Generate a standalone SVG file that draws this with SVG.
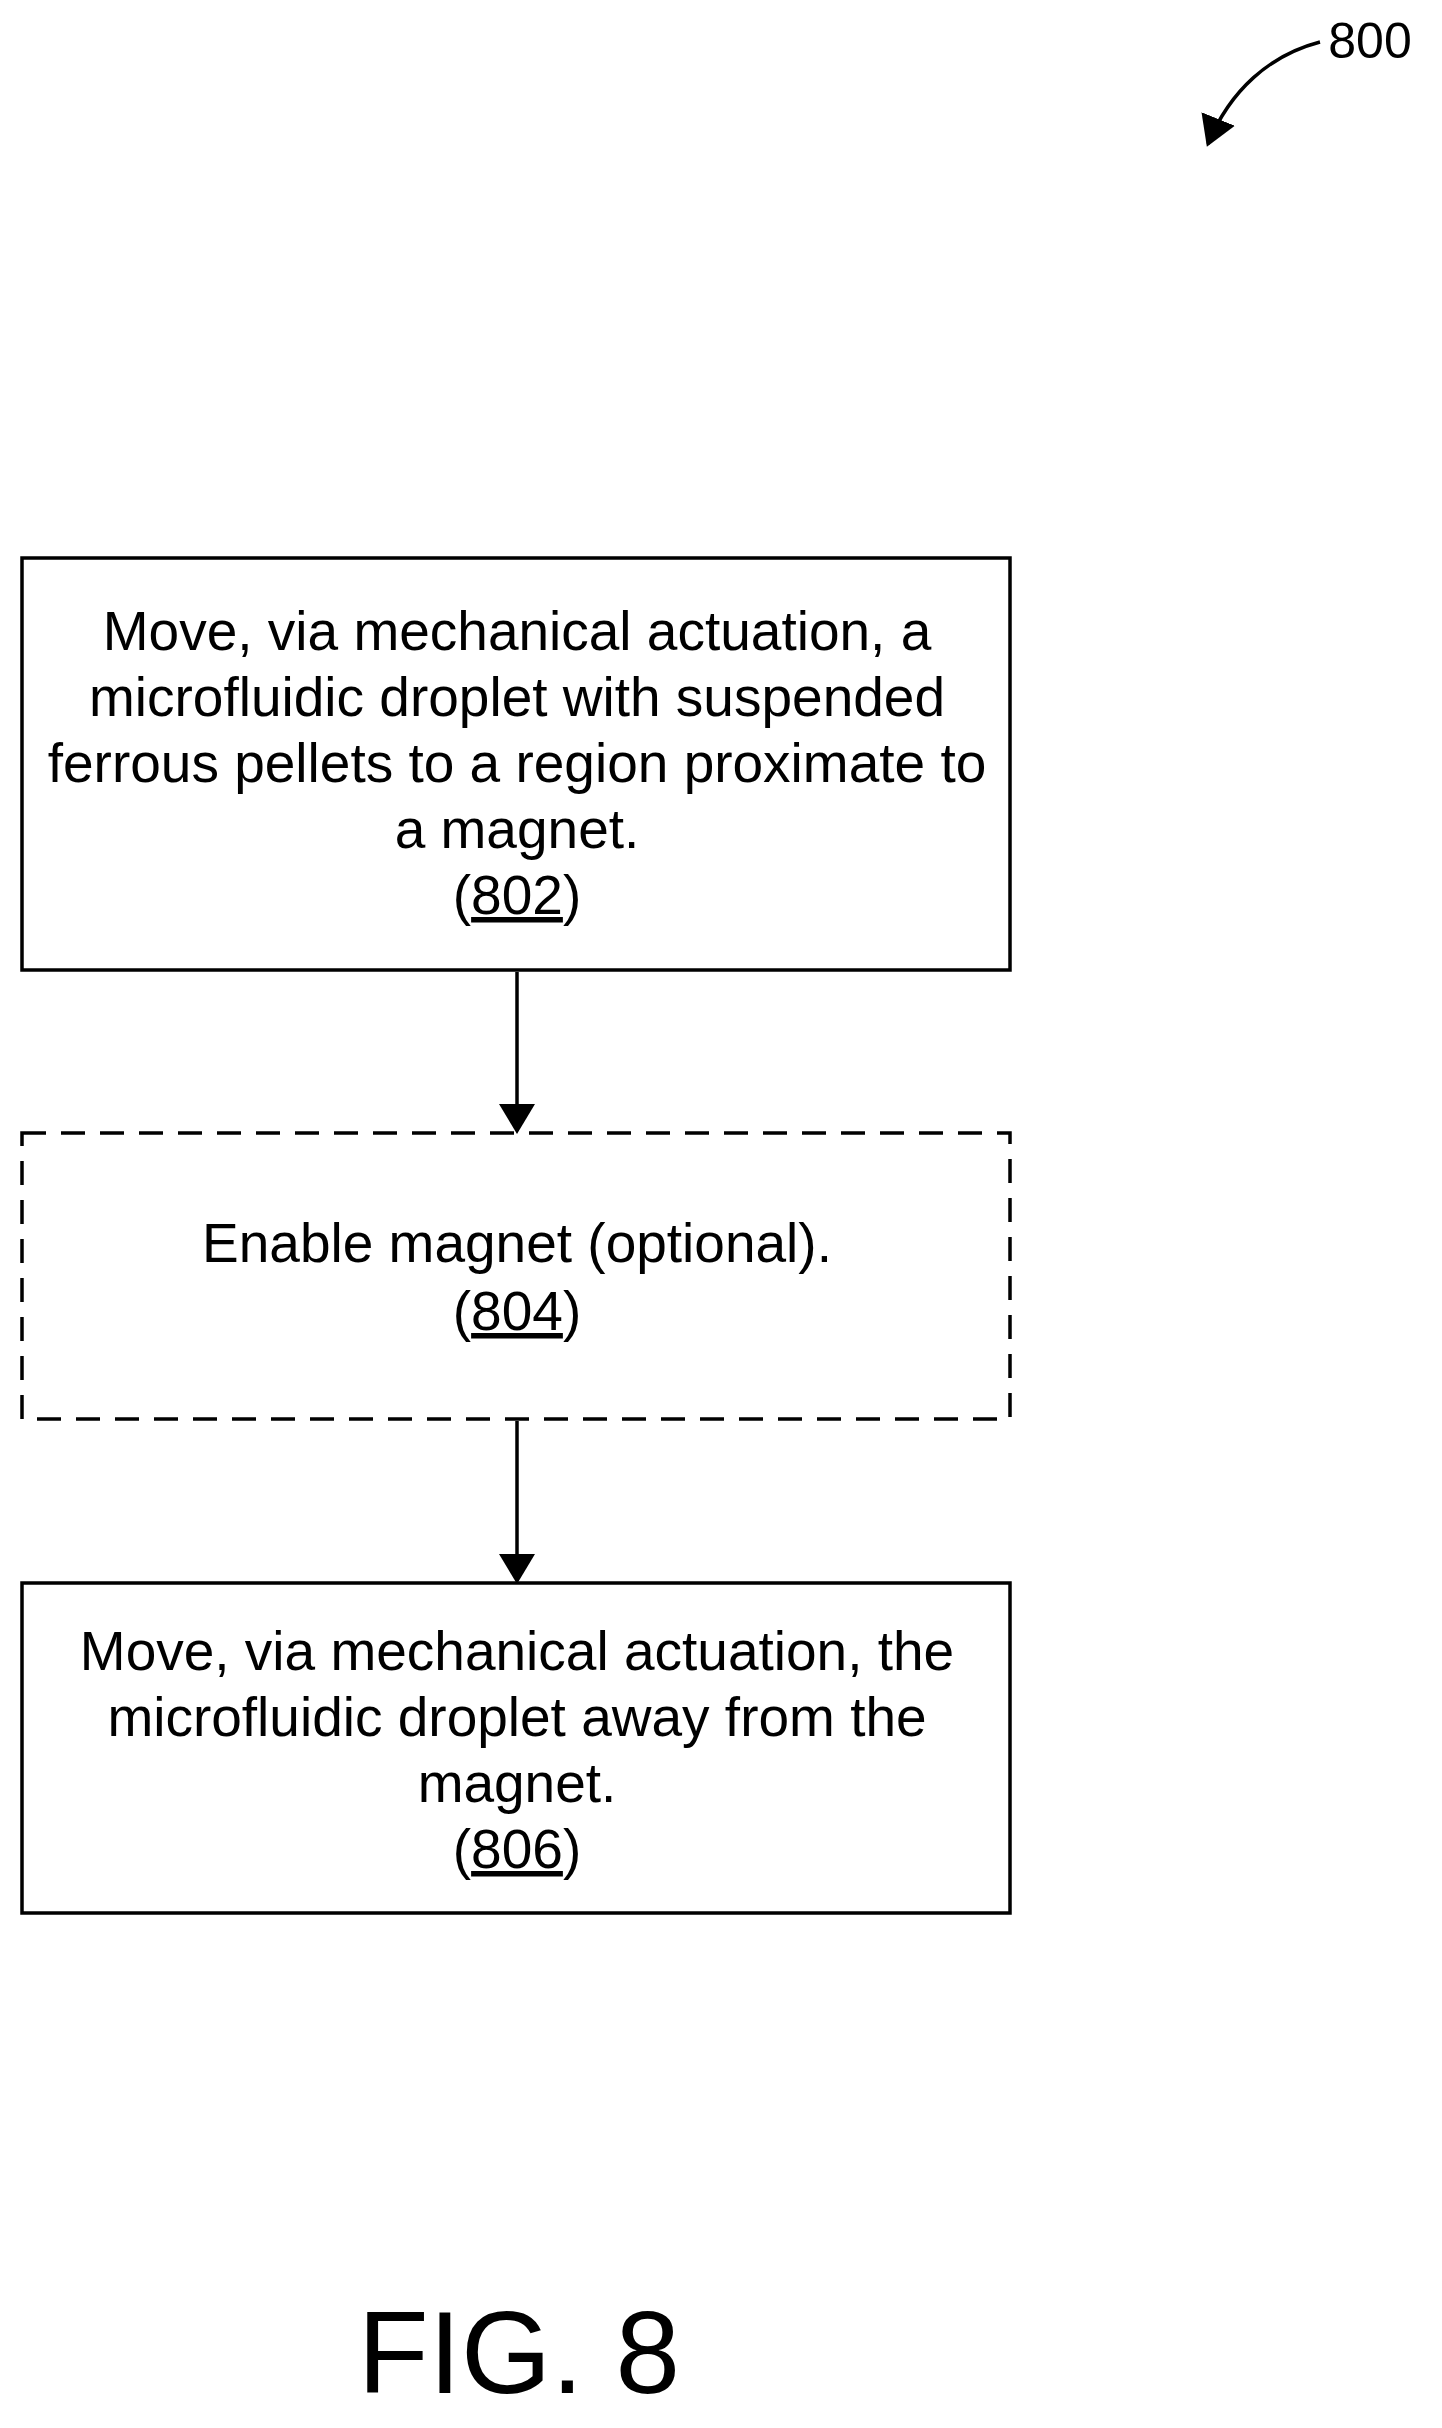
<svg xmlns="http://www.w3.org/2000/svg" width="1442" height="2428" viewBox="0 0 1442 2428">
<style>
.b{fill:#fff;stroke:#000;stroke-width:3.5}
.d{stroke-dasharray:24 15}
text{font-family:"Liberation Sans",Arial,sans-serif;font-size:55px;text-anchor:middle;fill:#000}
.c{stroke:#000;stroke-width:3.5;fill:none}
</style>
<defs>
<marker id="a2" viewBox="0 0 10 10" refX="9" refY="5" markerWidth="30" markerHeight="36" orient="auto" markerUnits="userSpaceOnUse" preserveAspectRatio="none"><path d="M0,0L10,5L0,10z"/></marker></defs>
<rect width="1442" height="2428" fill="#fff"/>
<g id="ref800"><text x="1370" y="58" style="font-size:50px">800</text><path class="c" d="M1320,42 C1270,55 1230,90 1208,144" marker-end="url(#a2)"/></g>
<g id="n802"><rect class="b" x="22" y="558" width="988" height="412"/>
<text x="517" y="650">Move, via mechanical actuation, a</text>
<text x="517" y="716">microfluidic droplet with suspended</text>
<text x="517" y="782">ferrous pellets to a region proximate to</text>
<text x="517" y="848">a magnet.</text>
<text x="517" y="914">(<tspan text-decoration="underline">802</tspan>)</text></g>
<g id="n804"><rect class="b d" x="22" y="1133" width="988" height="286"/>
<text x="517" y="1262">Enable magnet (optional).</text>
<text x="517" y="1330">(<tspan text-decoration="underline">804</tspan>)</text></g>
<g id="n806"><rect class="b" x="22" y="1583" width="988" height="330"/>
<text x="517" y="1670">Move, via mechanical actuation, the</text>
<text x="517" y="1736">microfluidic droplet away from the</text>
<text x="517" y="1802">magnet.</text>
<text x="517" y="1868">(<tspan text-decoration="underline">806</tspan>)</text></g>
<g id="connectors">
<path class="c" d="M517,972V1131" marker-end="url(#a2)"/>
<path class="c" d="M517,1421V1581" marker-end="url(#a2)"/>
</g>
<text x="519" y="2393" style="font-size:116px">FIG. 8</text>
</svg>
